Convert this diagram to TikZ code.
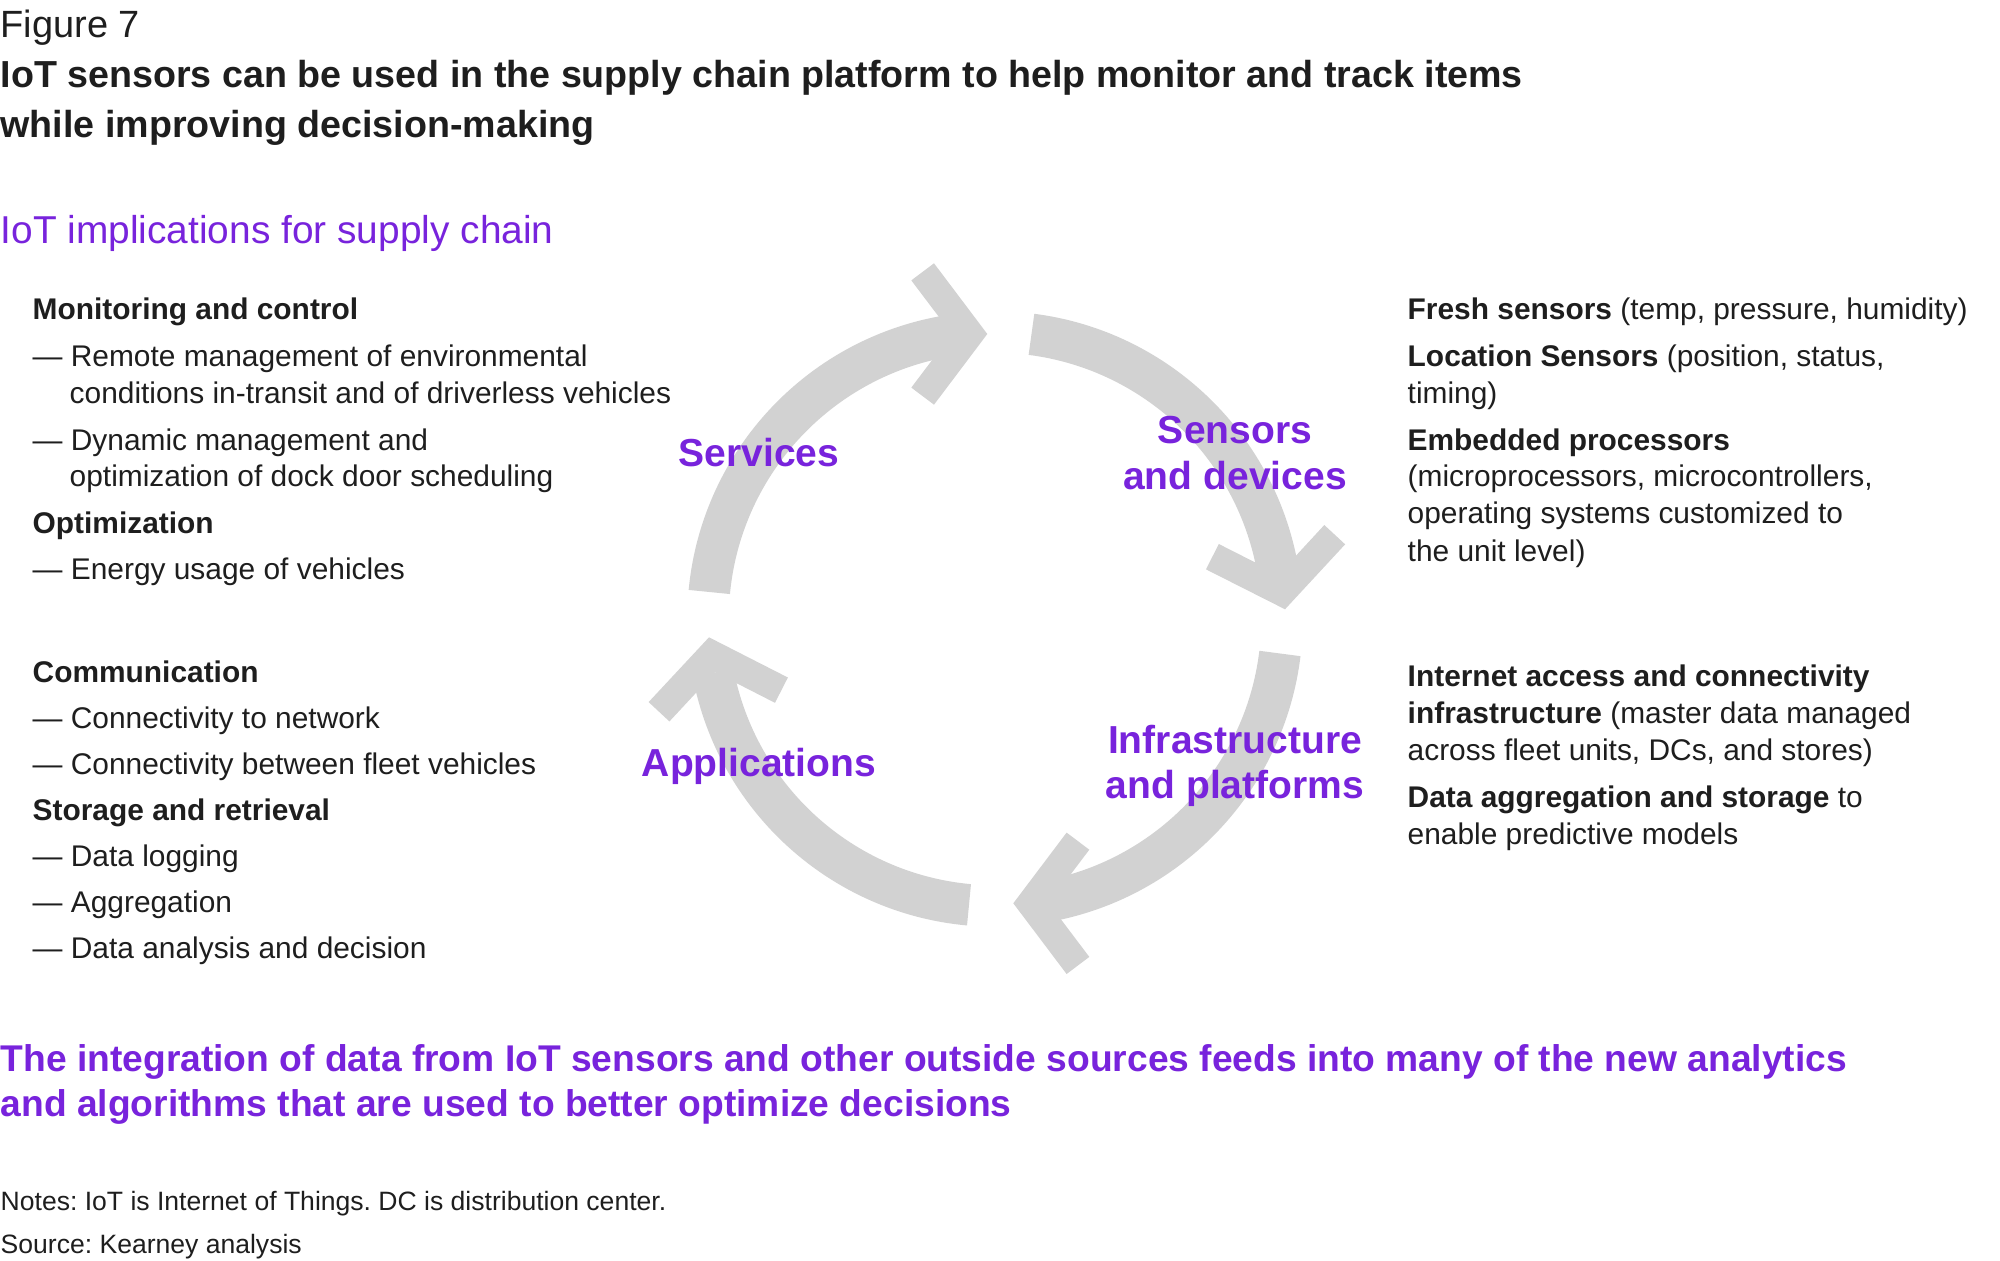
\documentclass[tikz,border=0pt]{standalone}
\usepackage{fontspec}
\setmainfont{Liberation Sans}
\usetikzlibrary{calc}
\definecolor{kpurple}{HTML}{7823DC}
\definecolor{ktext}{HTML}{1E1E1E}
\definecolor{karrow}{HTML}{D2D2D2}
\frenchspacing
\begin{document}
\begin{tikzpicture}[x=0.01cm,y=-0.01cm,
  lbl/.style={anchor=base west, inner sep=0pt, text=ktext},
  body/.style={lbl, font=\fontsize{8.5pt}{10pt}\selectfont},
  bhead/.style={body, font=\fontsize{8.5pt}{10pt}\selectfont\bfseries},
  cyclelbl/.style={anchor=base, inner sep=0pt, text=kpurple, font=\fontsize{11.1pt}{13pt}\selectfont\bfseries},
  ring/.style={draw=karrow, line width=11.8pt},
  chev/.style={fill=karrow}
]
\useasboundingbox (0,0) rectangle (2000,1261);

% ---------- header ----------
\node[lbl, font=\fontsize{10.8pt}{13pt}\selectfont] (fig) at (0,38) {Figure 7};
\node[lbl, font=\fontsize{10.7pt}{13pt}\selectfont\bfseries] (t1) at (0,88) {IoT sensors can be used in the supply chain platform to help monitor and track items};
\node[lbl, font=\fontsize{10.7pt}{13pt}\selectfont\bfseries] (t2) at (0,138) {while improving decision-making};
\node[lbl, text=kpurple, font=\fontsize{11.05pt}{13pt}\selectfont] (sub) at (0,244) {IoT implications for supply chain};

% ---------- cycle ----------
\coordinate (C) at (995,619);
\draw[ring] ($(C)+(-82.7:287)$) arc[start angle=-82.7, end angle=-8.9, radius=287];
\draw[ring] ($(C)+(6.9:287)$) arc[start angle=6.9, end angle=79.3, radius=287];
\draw[ring] ($(C)+(95.2:287)$) arc[start angle=95.2, end angle=169.2, radius=287];
\draw[ring] ($(C)+(-174.6:287)$) arc[start angle=-174.6, end angle=-98.6, radius=287];

\fill[chev, shift={(987.3,334)}, rotate=0]
  (0,0) -- (-53.3,70.7) -- (-76,53.6) -- (-35.5,0) -- (-76,-53.6) -- (-53.3,-70.7) -- cycle;
\fill[chev, shift={(1285,609.3)}, rotate=-79.8]
  (0,0) -- (-53.3,70.7) -- (-76,53.6) -- (-35.5,0) -- (-76,-53.6) -- (-53.3,-70.7) -- cycle;
\fill[chev, shift={(1013.3,903.3)}, rotate=180]
  (0,0) -- (-53.3,70.7) -- (-76,53.6) -- (-35.5,0) -- (-76,-53.6) -- (-53.3,-70.7) -- cycle;
\fill[chev, shift={(709,637.3)}, rotate=100]
  (0,0) -- (-53.3,70.7) -- (-76,53.6) -- (-35.5,0) -- (-76,-53.6) -- (-53.3,-70.7) -- cycle;

\node[cyclelbl] (services) at (759,466) {Services};
\node[cyclelbl] (sensA) at (1235,443) {Sensors};
\node[cyclelbl] (sensB) at (1235,489) {and devices};
\node[cyclelbl] (infA) at (1235,753) {Infrastructure};
\node[cyclelbl] (infB) at (1235,798) {and platforms};
\node[cyclelbl] (apps) at (759,776) {Applications};

% ---------- left column ----------
\node[bhead] (l1) at (32,320) {Monitoring and control};
\node[body] (l2) at (32,367) {\textemdash\ Remote management of environmental};
\node[body] (l3) at (69,404) {conditions in-transit and of driverless vehicles};
\node[body] (l4) at (32,450) {\textemdash\ Dynamic management and};
\node[body] (l5) at (69,487) {optimization of dock door scheduling};
\node[bhead] (l6) at (32,533) {Optimization};
\node[body] (l7) at (32,579) {\textemdash\ Energy usage of vehicles};
\node[bhead] (l8) at (32,682) {Communication};
\node[body] (l9) at (32,728) {\textemdash\ Connectivity to network};
\node[body] (l10) at (32,774) {\textemdash\ Connectivity between fleet vehicles};
\node[bhead] (l11) at (32,820) {Storage and retrieval};
\node[body] (l12) at (32,866) {\textemdash\ Data logging};
\node[body] (l13) at (32,912) {\textemdash\ Aggregation};
\node[body] (l14) at (32,958) {\textemdash\ Data analysis and decision};

% ---------- right column ----------
\node[body] (r1) at (1407,320) {\textbf{Fresh sensors} (temp, pressure, humidity)};
\node[body] (r2) at (1407,367) {\textbf{Location Sensors} (position, status,};
\node[body] (r3) at (1407,404) {timing)};
\node[bhead] (r4) at (1407,450) {Embedded processors};
\node[body] (r5) at (1407,487) {(microprocessors, microcontrollers,};
\node[body] (r6) at (1407,524) {operating systems customized to};
\node[body] (r7) at (1407,561) {the unit level)};
\node[bhead] (r8) at (1407,686) {Internet access and connectivity};
\node[body] (r9) at (1407,723) {\textbf{infrastructure} (master data managed};
\node[body] (r10) at (1407,760) {across fleet units, DCs, and stores)};
\node[body] (r11) at (1407,807) {\textbf{Data aggregation and storage} to};
\node[body] (r12) at (1407,844) {enable predictive models};

% ---------- footer ----------
\node[lbl, text=kpurple, font=\fontsize{10.58pt}{13pt}\selectfont\bfseries] (b1) at (0,1071) {The integration of data from IoT sensors and other outside sources feeds into many of the new analytics};
\node[lbl, text=kpurple, font=\fontsize{10.58pt}{13pt}\selectfont\bfseries] (b2) at (0,1116) {and algorithms that are used to better optimize decisions};
\node[lbl, font=\fontsize{7.55pt}{9pt}\selectfont] (notes) at (0,1210) {Notes: IoT is Internet of Things. DC is distribution center.};
\node[lbl, font=\fontsize{7.55pt}{9pt}\selectfont] (source) at (0,1253) {Source: Kearney analysis};
\end{tikzpicture}
\end{document}
